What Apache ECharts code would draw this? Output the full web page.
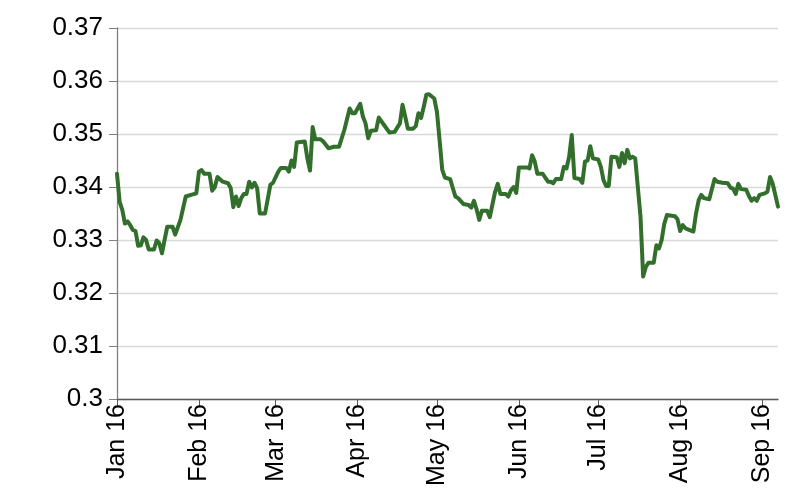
<!DOCTYPE html>
<html><head><meta charset="utf-8">
<script src="https://cdn.jsdelivr.net/npm/echarts@6/dist/echarts.min.js"></script>
<style>html,body{margin:0;padding:0;background:#fff}#c{width:800px;height:497px}</style>
</head><body><div id="c"></div>
<script>
const dates = ['2016-01-01','2016-01-02','2016-01-03','2016-01-04','2016-01-05','2016-01-06','2016-01-07','2016-01-08','2016-01-09','2016-01-10','2016-01-11','2016-01-12','2016-01-13','2016-01-15','2016-01-16','2016-01-17','2016-01-18','2016-01-20','2016-01-22','2016-01-23','2016-01-25','2016-01-27','2016-01-29','2016-01-31',
'2016-02-01','2016-02-02','2016-02-03','2016-02-05','2016-02-06','2016-02-07','2016-02-08','2016-02-10','2016-02-12','2016-02-13','2016-02-14','2016-02-15','2016-02-16','2016-02-17','2016-02-18','2016-02-19','2016-02-20','2016-02-21','2016-02-22','2016-02-23','2016-02-24','2016-02-26','2016-02-28','2016-02-29',
'2016-03-02','2016-03-03','2016-03-05','2016-03-06','2016-03-07','2016-03-08','2016-03-09','2016-03-12','2016-03-13','2016-03-14','2016-03-15','2016-03-16','2016-03-18','2016-03-19','2016-03-21','2016-03-23','2016-03-25','2016-03-27','2016-03-29','2016-03-30','2016-03-31',
'2016-04-02','2016-04-03','2016-04-04','2016-04-05','2016-04-06','2016-04-08','2016-04-09','2016-04-11','2016-04-13','2016-04-15','2016-04-17','2016-04-18','2016-04-19','2016-04-20','2016-04-22','2016-04-23','2016-04-24','2016-04-25','2016-04-26','2016-04-27','2016-04-28','2016-04-30',
'2016-05-01','2016-05-02','2016-05-03','2016-05-04','2016-05-06','2016-05-07','2016-05-08','2016-05-09','2016-05-11','2016-05-13','2016-05-14','2016-05-15','2016-05-16','2016-05-17','2016-05-18','2016-05-20','2016-05-21','2016-05-23','2016-05-24','2016-05-25','2016-05-27','2016-05-28','2016-05-29','2016-05-30','2016-05-31',
'2016-06-01','2016-06-04','2016-06-05','2016-06-06','2016-06-07','2016-06-08','2016-06-10','2016-06-12','2016-06-13','2016-06-14','2016-06-15','2016-06-17','2016-06-18','2016-06-19','2016-06-20','2016-06-21','2016-06-22','2016-06-24','2016-06-25','2016-06-26','2016-06-27','2016-06-28','2016-06-29',
'2016-07-01','2016-07-02','2016-07-03','2016-07-04','2016-07-05','2016-07-06','2016-07-08','2016-07-09','2016-07-10','2016-07-11','2016-07-12','2016-07-13','2016-07-14','2016-07-15','2016-07-17','2016-07-18','2016-07-19','2016-07-20','2016-07-22','2016-07-23','2016-07-24','2016-07-25','2016-07-26','2016-07-27','2016-07-30','2016-07-31',
'2016-08-01','2016-08-02','2016-08-03','2016-08-06','2016-08-07','2016-08-08','2016-08-09','2016-08-10','2016-08-12','2016-08-14','2016-08-15','2016-08-17','2016-08-19','2016-08-20','2016-08-21','2016-08-22','2016-08-23','2016-08-24','2016-08-26','2016-08-27','2016-08-28','2016-08-29','2016-08-30','2016-08-31',
'2016-09-02','2016-09-03','2016-09-04','2016-09-05','2016-09-07'];
const values = [0.3425,0.3372,0.3357,0.3331,0.3335,0.3328,0.3319,0.3317,0.3289,0.3290,0.3305,0.3300,0.3282,0.3282,0.3299,0.3294,0.3275,0.3325,0.3325,0.3310,0.3338,0.3382,0.3385,0.3388,
0.3429,0.3432,0.3425,0.3425,0.3393,0.3400,0.3419,0.3410,0.3407,0.3398,0.3362,0.3382,0.3364,0.3379,0.3387,0.3387,0.3410,0.3399,0.3408,0.3398,0.3350,0.3350,0.3404,0.3408,
0.3429,0.3436,0.3436,0.3429,0.3450,0.3438,0.3484,0.3486,0.3454,0.3431,0.3513,0.3490,0.3490,0.3486,0.3473,0.3476,0.3476,0.3508,0.3548,0.3539,0.3539,
0.3557,0.3533,0.3520,0.3492,0.3506,0.3507,0.3531,0.3517,0.3503,0.3504,0.3520,0.3555,0.3533,0.3510,0.3510,0.3515,0.3539,0.3530,0.3551,0.3574,0.3575,0.3567,
0.3542,0.3489,0.3433,0.3418,0.3415,0.3398,0.3382,0.3379,0.3368,0.3366,0.3361,0.3374,0.3358,0.3338,0.3355,0.3355,0.3343,0.3391,0.3406,0.3387,0.3387,0.3382,0.3394,0.3400,0.3389,
0.3437,0.3437,0.3435,0.3460,0.3448,0.3425,0.3425,0.3410,0.3410,0.3407,0.3415,0.3415,0.3438,0.3435,0.3457,0.3498,0.3417,0.3415,0.3408,0.3448,0.3450,0.3477,0.3454,
0.3452,0.3438,0.3413,0.3402,0.3402,0.3457,0.3456,0.3438,0.3464,0.3445,0.3470,0.3454,0.3457,0.3454,0.3344,0.3231,0.3249,0.3257,0.3257,0.3290,0.3284,0.3300,0.3331,0.3347,0.3345,0.3339,
0.3317,0.3328,0.3322,0.3316,0.3350,0.3375,0.3385,0.3379,0.3377,0.3415,0.3410,0.3408,0.3407,0.3399,0.3397,0.3387,0.3406,0.3396,0.3395,0.3383,0.3374,0.3379,0.3374,0.3385,
0.3388,0.3391,0.3419,0.3406,0.3363];
const tickDates = ['2016-01-01','2016-02-01','2016-03-01','2016-04-01','2016-05-01','2016-06-01','2016-07-01','2016-08-01','2016-09-01'];
const tickLabels = ['Jan 16','Feb 16','Mar 16','Apr 16','May 16','Jun 16','Jul 16','Aug 16','Sep 16'];
const xMin = '2016-01-01', xMax = '2016-09-07';
const yMin = 0.3, yMax = 0.37, yStep = 0.01;

const DAY = 86400000;
const ts = d => new Date(d + 'T00:00:00Z').getTime();
const dayOf = d => Math.round((ts(d) - ts(xMin)) / DAY);
const tickDays = tickDates.map(dayOf);
const FONT = "'Liberation Sans Narrow', 'Arial Narrow', 'Liberation Sans', Arial, sans-serif";
const chart = echarts.init(document.getElementById('c'), null, {renderer: 'canvas'});
chart.setOption({
  animation: false,
  backgroundColor: '#ffffff',
  grid: {left: 117, right: 22, top: 28, bottom: 98, containLabel: false},
  xAxis: {
    type: 'value', min: 0, max: dayOf(xMax),
    axisLine: {show: true, onZero: false, lineStyle: {color: '#595959', width: 1.3}},
    axisTick: {show: true, length: 8, customValues: tickDays, lineStyle: {color: '#595959', width: 1}},
    axisLabel: {
      customValues: tickDays, rotate: 90, margin: 5,
      fontFamily: FONT, fontSize: 25, color: '#000',
      formatter: v => { const i = tickDays.indexOf(Math.round(v)); return i >= 0 ? tickLabels[i] : ''; }
    },
    splitLine: {show: false}
  },
  yAxis: {
    type: 'value', min: yMin, max: yMax, interval: yStep,
    axisLine: {show: true, lineStyle: {color: '#808080', width: 1.3}},
    axisTick: {show: true, length: 8, inside: false, lineStyle: {color: '#808080'}},
    axisLabel: {margin: 14, fontFamily: FONT, fontSize: 26, color: '#000',
      formatter: v => String(+v.toFixed(2))},
    splitLine: {show: true, lineStyle: {color: '#d9d9d9', width: 1.3}}
  },
  series: [{
    type: 'line', showSymbol: false, symbol: 'none',
    data: dates.map((d, i) => [dayOf(d), values[i]]),
    lineStyle: {color: '#336f2c', width: 4, join: 'round', cap: 'round'},
    itemStyle: {color: '#336f2c'}
  }]
});
</script></body></html>
